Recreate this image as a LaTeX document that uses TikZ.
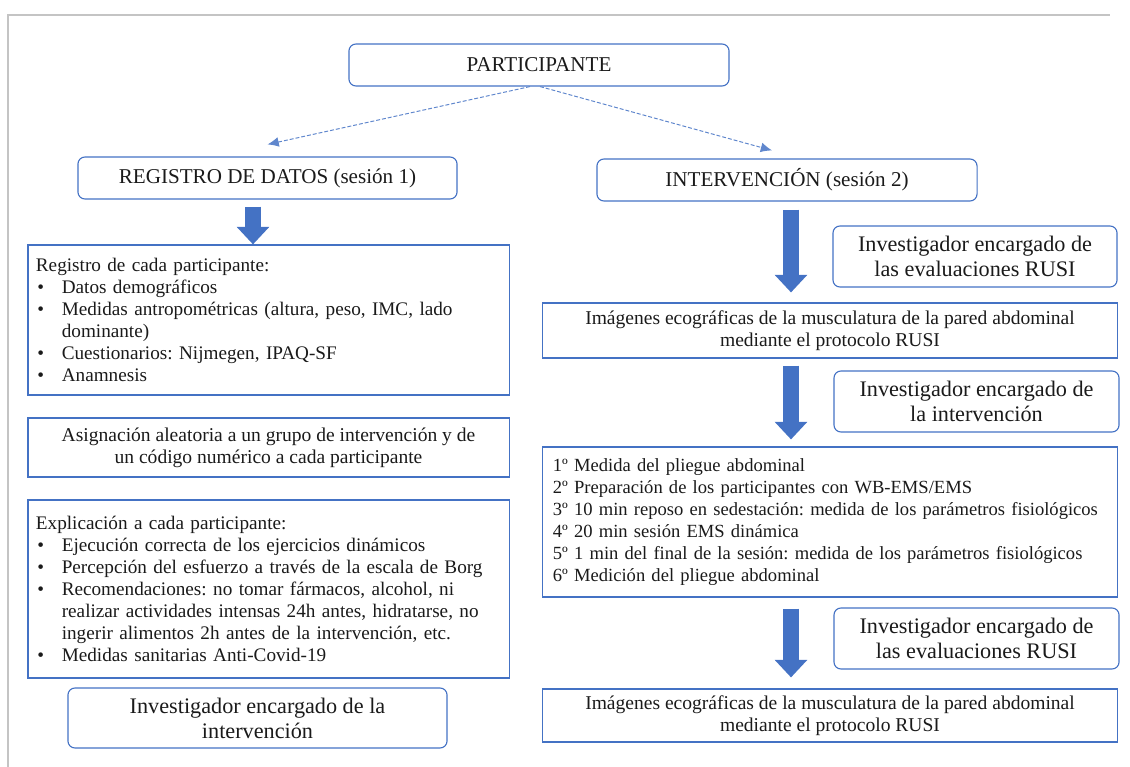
\documentclass[tikz,border=0pt]{standalone}
\usepackage{fontspec}
\setmainfont{Liberation Serif}
\usetikzlibrary{positioning, calc, arrows.meta}
\definecolor{Blue}{HTML}{4472C4}
\definecolor{Frame}{HTML}{C4C4C4}
\definecolor{Ink}{HTML}{1A1A1A}
\newcommand{\bul}{\makebox[18.4pt][l]{\hspace{1pt}\textbullet}}
\newcommand{\cont}{\hspace*{18.4pt}}
\frenchspacing
\tikzset{
    roundbox/.style={rectangle, rounded corners=5pt, draw=Blue, line width=0.8pt, align=center, text=Ink, inner sep=0pt, font=\fontsize{15.8}{17.7}\selectfont},
    headbox/.style={roundbox, font=\fontsize{15}{18}\selectfont},
    squarebox/.style={rectangle, draw=Blue, line width=0.8pt, align=center, text=Ink, inner sep=0pt, font=\fontsize{13.9}{15.5}\selectfont},
    listbox/.style={squarebox, align=left, inner xsep=0.2cm, font=\fontsize{13.65}{15.6}\selectfont},
    bigarrow/.style={-{Triangle[width=22.5pt, length=12.5pt]}, line width=11.3pt, color=Blue},
    dasharrow/.style={-{Latex[length=8pt, width=7pt]}, dash pattern=on 2.8pt off 1.4pt, line width=0.7pt, color=Blue!85},
}
\begin{document}
\begin{tikzpicture}[x=0.025cm, y=-0.025cm]
    \useasboundingbox (0,0) rectangle (1130,767);
    % cornice grigia
    \draw[Frame, line width=1.6pt] (8,767) -- (8,15) -- (1110,15);

    \node[headbox, minimum width=9.5cm, minimum height=1.05cm] (part) at (539,65) {PARTICIPANTE};
    \node[headbox, minimum width=9.475cm, minimum height=1.05cm] (reg) at (267.5,178) {REGISTRO DE DATOS (sesión 1)};
    \node[headbox, minimum width=9.5cm, minimum height=1.05cm] (inter) at (787,180) {INTERVENCIÓN (sesión 2)};

    % colonna sinistra (sesione 1)
    \node[listbox, text width=11.625cm, minimum height=3.75cm] (datos) at (268.5,320) {Registro de cada participante:\\
        \bul Datos demográficos\\
        \bul Medidas antropométricas (altura, peso, IMC, lado\\
        \cont dominante)\\
        \bul Cuestionarios: Nijmegen, IPAQ-SF\\
        \bul Anamnesis};
    \node[squarebox, minimum width=12.025cm, minimum height=1.475cm] (asig) at (268.5,447.5) {Asignación aleatoria a un grupo de intervención y de\\ un código numérico a cada participante};
    \node[listbox, text width=11.625cm, minimum height=4.45cm] (expl) at (268.5,589) {Explicación a cada participante:\\
        \bul Ejecución correcta de los ejercicios dinámicos\\
        \bul Percepción del esfuerzo a través de la escala de Borg\\
        \bul Recomendaciones: no tomar fármacos, alcohol, ni\\
        \cont realizar actividades intensas 24h antes, hidratarse, no\\
        \cont ingerir alimentos 2h antes de la intervención, etc.\\
        \bul Medidas sanitarias Anti-Covid-19};
    \node[roundbox, minimum width=9.475cm, minimum height=1.5cm] (invL) at (257.5,718) {Investigador encargado de la\\ intervención};

    % colonna destra (sesione 2)
    \node[roundbox, minimum width=7.1cm, minimum height=1.525cm] (rusiA) at (975,256.5) {Investigador encargado de\\ las evaluaciones RUSI};
    \node[squarebox, minimum width=14.35cm, minimum height=1.375cm] (imgA) at (830,330.5) {Imágenes ecográficas de la musculatura de la pared abdominal\\ mediante el protocolo RUSI};
    \node[roundbox, minimum width=7.125cm, minimum height=1.525cm] (invR) at (976.5,401.5) {Investigador encargado de\\ la intervención};
    \node[listbox, inner xsep=0.25cm, text width=13.85cm, minimum height=3.75cm, font=\fontsize{13.2}{15.6}\selectfont] (steps) at (830,522) {1º Medida del pliegue abdominal\\
        2º Preparación de los participantes con WB-EMS/EMS\\
        3º 10 min reposo en sedestación: medida de los parámetros fisiológicos\\
        4º 20 min sesión EMS dinámica\\
        5º 1 min del final de la sesión: medida de los parámetros fisiológicos\\
        6º Medición del pliegue abdominal};
    \node[roundbox, minimum width=7.125cm, minimum height=1.525cm] (rusiB) at (976.5,638.5) {Investigador encargado de\\ las evaluaciones RUSI};
    \node[squarebox, minimum width=14.35cm, minimum height=1.325cm] (imgB) at (830,715.5) {Imágenes ecográficas de la musculatura de la pared abdominal\\ mediante el protocolo RUSI};

    % frecce tratteggiate
    \draw[dasharrow] ([xshift=-0.225cm]part.south) -- ([yshift=0.3cm]reg.north);
    \draw[dasharrow] ([xshift=0.025cm]part.south) -- ([xshift=-0.375cm, yshift=0.2cm]inter.north);

    % frecce blu
    \coordinate (colL) at (253,0);
    \coordinate (colR) at (791,0);
    \draw[bigarrow, shorten <=0.175cm] (reg.south -| colL) -- (datos.north -| colL);
    \draw[bigarrow, shorten <=0.2cm, shorten >=0.25cm] (inter.south -| colR) -- (imgA.north -| colR);
    \draw[bigarrow, shorten <=0.175cm, shorten >=0.175cm] (imgA.south -| colR) -- (steps.north -| colR);
    \draw[bigarrow, shorten <=0.275cm, shorten >=0.275cm] (steps.south -| colR) -- (imgB.north -| colR);
\end{tikzpicture}
\end{document}
